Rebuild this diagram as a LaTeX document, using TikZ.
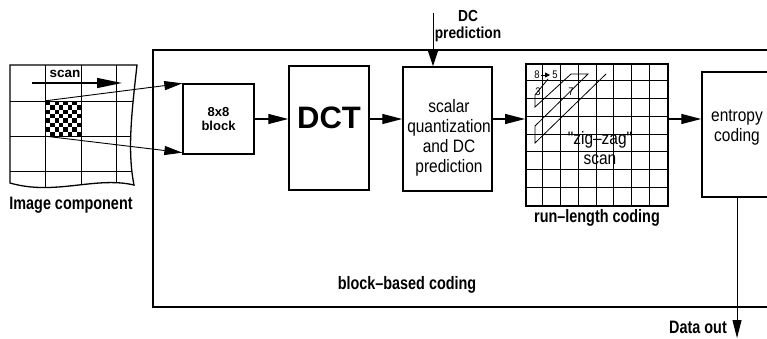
\documentclass[tikz,border=0pt]{standalone}
\usepackage{fontspec}
\usetikzlibrary{arrows.meta}
\newfontfamily\narrowrm[FakeStretch=0.86]{Liberation Sans}
\newfontfamily\narrowbf[FakeStretch=0.80]{Liberation Sans}
\newfontfamily\dcbf[FakeStretch=0.86]{Liberation Sans}
\newfontfamily\widesans{Liberation Sans}

\begin{document}
\begin{tikzpicture}[x=1pt,y=-1pt,
		box/.style={draw,line width=1.5pt,inner sep=0pt},
		flow/.style={line width=1.3pt,-{Triangle[length=20pt,width=10pt]}},
		feed/.style={line width=0.9pt,-{Triangle[length=18pt,width=9pt]}},
		txt/.style={font=\narrowrm\fontsize{18}{20}\selectfont,align=center,inner sep=0pt},
		btxt/.style={font=\narrowbf\bfseries\fontsize{18}{20}\selectfont,align=center,inner sep=0pt},
		cell/.style={font=\narrowrm\fontsize{11}{12}\selectfont,inner sep=0pt}]
		\useasboundingbox (0,0) rectangle (767,339);
		\clip (0,0) rectangle (767,339);
		\begin{scope}
			\clip (10,65) -- (137,65) .. controls (132,110) and (127,150) .. (134,185) .. controls (95,176) and (55,196) .. (10,183) -- cycle;
			\foreach \x in {45.7,81,116.7}
				\draw [line width=0.9pt] (\x,65) -- (\x,200);
			\foreach \y in {101,136,171.7}
				\draw [line width=0.9pt] (10,\y) -- (140,\y);
		\end{scope}
		\draw [line width=1.3pt] (10,65) -- (137,65) .. controls (132,110) and (127,150) .. (134,185) .. controls (95,176) and (55,196) .. (10,183) -- cycle;
		\foreach \i in {0,...,7}
			\foreach \j in {0,...,7} {
				\pgfmathparse{int(mod(\i+\j,2))}
				\ifnum\pgfmathresult=0
					\fill (45.7+\i*4.41,101+\j*4.375) rectangle ++(4.41,4.375);
				\fi
			}
		\node [minimum width=35.3pt,minimum height=35pt,inner sep=0pt] (patch) at (63.35,118.5) {};
		\node [font=\widesans\bfseries\fontsize{13.5}{15}\selectfont,inner sep=0pt] (scanlab) at (65,74) {scan};
		\coordinate (scanfrom) at (32,83);
		\coordinate (scanto) at (122,83);
		\draw [line width=1.3pt,-{Triangle[length=25pt,width=10pt]}] (scanfrom) -- (scanto);
		\node [btxt] (imglab) at (71,205) {Image component};
		\node [draw,line width=1.2pt,minimum width=647pt,minimum height=257pt,inner sep=0pt] (frame) at (476.5,178.5) {};
		\node [btxt] (framelab) at (407,285) {block–based coding};
		\node [box,line width=1.3pt,minimum width=71pt,minimum height=70pt,font=\widesans\bfseries\fontsize{13}{14}\selectfont,align=center] (blk) at (218.5,119) {8x8\\block};
		\node [box,minimum width=80pt,minimum height=124pt] (dct) at (329,128) {};
		\node [font=\widesans\bfseries\fontsize{31}{34}\selectfont,inner sep=0pt] (dctlab) at ([yshift=10pt]dct.center) {DCT};
		\node [box,minimum width=89pt,minimum height=124pt] (scal) at (447.5,129) {};
		\node [txt] (scallab) at (449,138) {scalar\\quantization\\and DC\\prediction};
		\coordinate (dcin) at (433,13);
		\node [font=\dcbf\bfseries\fontsize{16}{17}\selectfont,align=center,inner sep=0pt] (dclab) at (468,26) {DC\\prediction};
		\draw [line width=1pt,-{Triangle[length=17pt,width=11pt]}] (dcin) -- (dcin |- scal.north);
		\node [draw,line width=1.8pt,minimum size=142pt,inner sep=0pt] (zz) at (597,135) {};
		\foreach \k in {1,...,7} {
			\draw [line width=0.8pt] ([xshift=\k*17.75pt]zz.north west) -- ([xshift=\k*17.75pt]zz.south west);
			\draw [line width=0.8pt] ([yshift=-\k*17.75pt]zz.north west) -- ([yshift=-\k*17.75pt]zz.north east);
		}
		\draw [line width=0.8pt] (548,79) -- (535,95) -- (535,107) -- (571,74) -- (588,74) -- (535,126) -- (535,143) -- (606,74);
		\draw [line width=0.8pt,-{Triangle[length=5pt,width=5pt]}] (541,75) -- (550,75);
		\node [cell] (c0) at (537,75) {8};
		\node [cell] (c1) at (555,75) {5};
		\node [cell] (c2) at (538,92) {3};
		\node [cell] (c3) at (571,92) {7};
		\node [txt] (zzlab) at (600,148) {"zig–zag"\\scan};
		\node [btxt] (rllab) at (597,218) {run–length coding};
		\node [box,minimum width=98pt,minimum height=125pt] (ent) at (751,134.5) {};
		\node [txt] (entlab) at (737,128) {entropy\\coding};
		\draw [feed] (patch.north west) -- (blk.north west);
		\draw [feed] (patch.south west) -- ([yshift=2pt]blk.south west);
		\draw [flow] (blk.east) -- (blk.east -| dct.west);
		\draw [flow] (dct.east |- blk.east) -- (scal.west |- blk.east);
		\draw [flow] (scal.east |- blk.east) -- (zz.west |- blk.east);
		\draw [flow] (zz.east |- blk.east) -- (ent.west |- blk.east);
		\coordinate (dout) at (737,338);
		\draw [line width=1pt,-{Triangle[length=18pt,width=9pt]}] (dout |- ent.south) -- (dout);
		\node [btxt,anchor=east] (outlab) at (727,327) {Data out};
	\end{tikzpicture}
\end{document}
